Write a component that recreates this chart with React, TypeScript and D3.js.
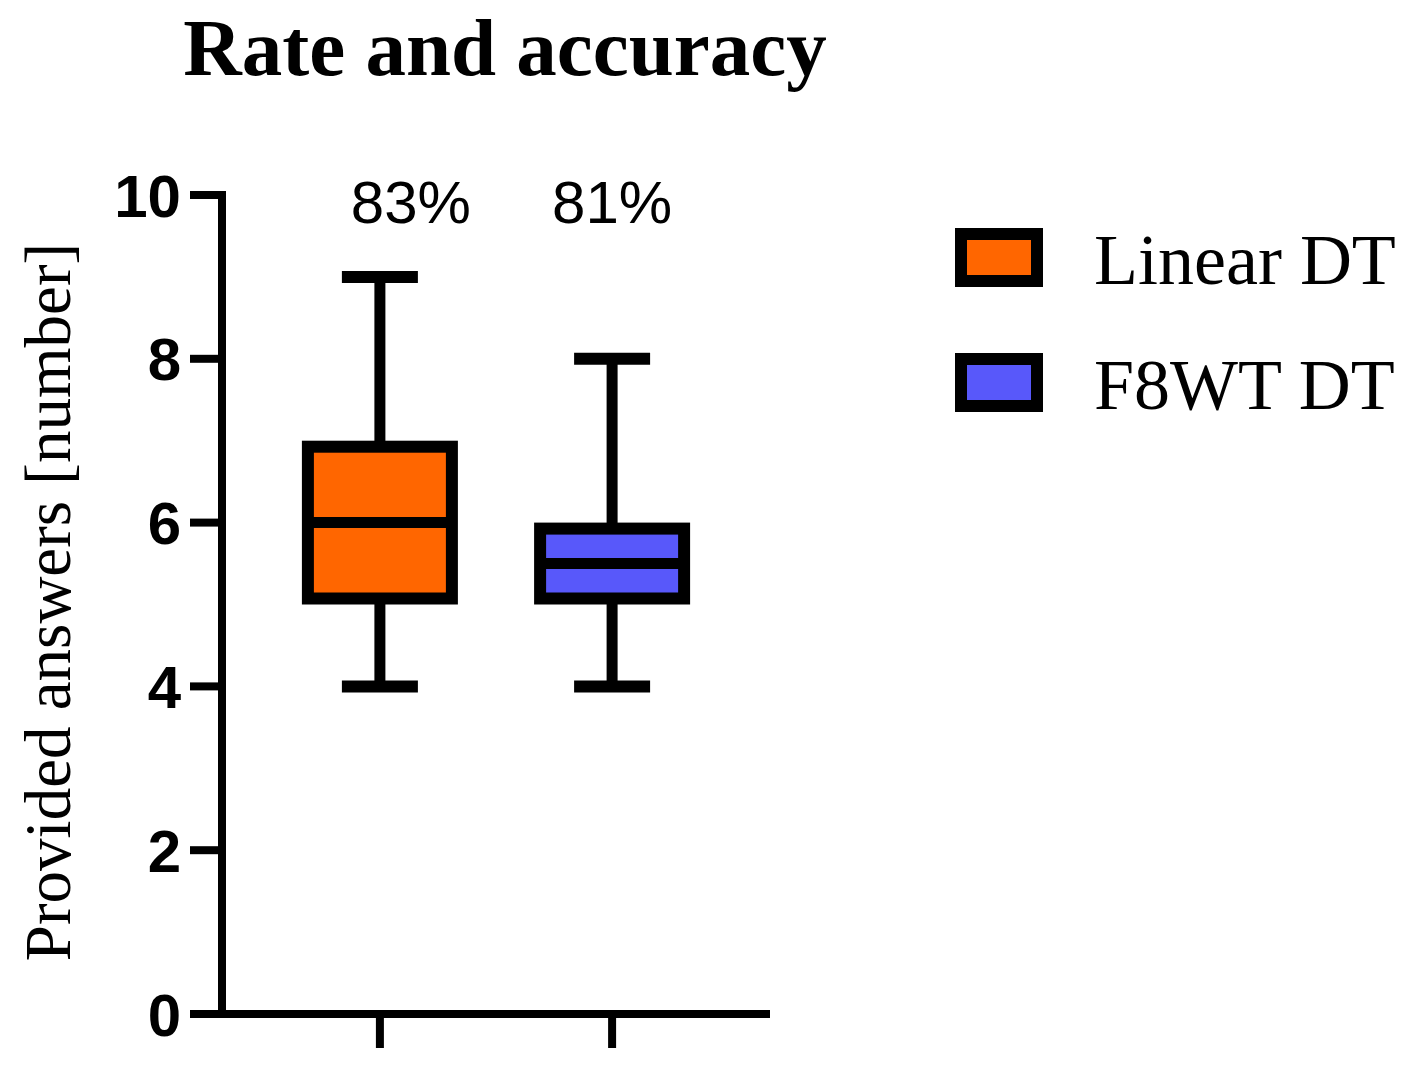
import React from 'react';
import * as d3 from 'd3';

// data
const groups = ['Linear DT', 'F8WT DT'];
const colors = ['#FF6600', '#5858FA'];
const whiskerLow = [4, 4];
const q1 = [5, 5];
const median = [6, 5.5];
const q3 = [7, 6];
const whiskerHigh = [9, 8];
const accuracyLabels = ['83%', '81%'];
const yTicks = [0, 2, 4, 6, 8, 10];

const width = 1419,
      height = 1073;

const App = () => {
  const y = d3.scaleLinear().domain([0, 10]).range([1014, 195]);
  const x = d3.scalePoint<string>().domain(groups).range([222, 770]).padding(0.68);

  const axisW = 8;
  const boxW = 12;
  const boxHalf = 72; // half width at stroke centre
  const capHalf = 38;
  const serif = '"Liberation Serif", "Times New Roman", serif';
  const sans = '"Liberation Sans", Arial, sans-serif';

  return (
    <svg width={width} height={height} style={{position: 'absolute', left: 0, top: 0, background: '#fff'}}>
      <text x={505} y={75} textAnchor="middle" fontFamily={serif} fontWeight="bold" fontSize={81}>
        Rate and accuracy
      </text>

      {/* y axis */}
      <line x1={x.range()[0]} x2={x.range()[0]} y1={y(10) - axisW / 2} y2={y(0)} stroke="#000" strokeWidth={axisW} />
      {yTicks.map(t => (
        <g key={t}>
          <line x1={x.range()[0] - 32} x2={x.range()[0]} y1={y(t)} y2={y(t)} stroke="#000" strokeWidth={axisW} />
          <text x={181} y={y(t)} dy="0.36em" textAnchor="end" fontFamily={sans} fontWeight="bold" fontSize={60}>
            {t}
          </text>
        </g>
      ))}

      {/* x axis */}
      <line x1={x.range()[0] - 32} x2={x.range()[1]} y1={y(0)} y2={y(0)} stroke="#000" strokeWidth={axisW} />
      {groups.map(g => (
        <line key={g} x1={x(g)} x2={x(g)} y1={y(0)} y2={y(0) + 34} stroke="#000" strokeWidth={axisW} />
      ))}

      {/* boxes */}
      {groups.map((g, i) => {
        const cx = x(g) as number;
        const top = y(q3[i]) + boxW / 2;
        const bottom = y(q1[i]) - boxW / 2;
        return (
          <g key={g}>
            <line x1={cx} x2={cx} y1={y(whiskerHigh[i])} y2={top} stroke="#000" strokeWidth={11} />
            <line x1={cx} x2={cx} y1={bottom} y2={y(whiskerLow[i])} stroke="#000" strokeWidth={11} />
            <line x1={cx - capHalf} x2={cx + capHalf} y1={y(whiskerHigh[i])} y2={y(whiskerHigh[i])} stroke="#000" strokeWidth={12} />
            <line x1={cx - capHalf} x2={cx + capHalf} y1={y(whiskerLow[i])} y2={y(whiskerLow[i])} stroke="#000" strokeWidth={12} />
            <rect x={cx - boxHalf} y={top} width={boxHalf * 2} height={bottom - top}
                  fill={colors[i]} stroke="#000" strokeWidth={boxW} />
            <line x1={cx - boxHalf} x2={cx + boxHalf} y1={y(median[i])} y2={y(median[i])} stroke="#000" strokeWidth={11} />
            <text x={cx + (i === 0 ? 31 : 0)} y={223} textAnchor="middle" fontFamily={sans} fontSize={60}>
              {accuracyLabels[i]}
            </text>
          </g>
        );
      })}

      {/* y label */}
      <text transform={`translate(70,602) rotate(-90)`} textAnchor="middle" fontFamily={serif} fontSize={65}>
        Provided answers [number]
      </text>

      {/* legend */}
      {groups.map((g, i) => (
        <g key={g} transform={`translate(961,${234 + i * 125})`}>
          <rect x={0} y={0} width={76} height={47} fill={colors[i]} stroke="#000" strokeWidth={12} />
          <text x={133} y={50} fontFamily={serif} fontSize={72}>{g}</text>
        </g>
      ))}
    </svg>
  );
};

export default App;
